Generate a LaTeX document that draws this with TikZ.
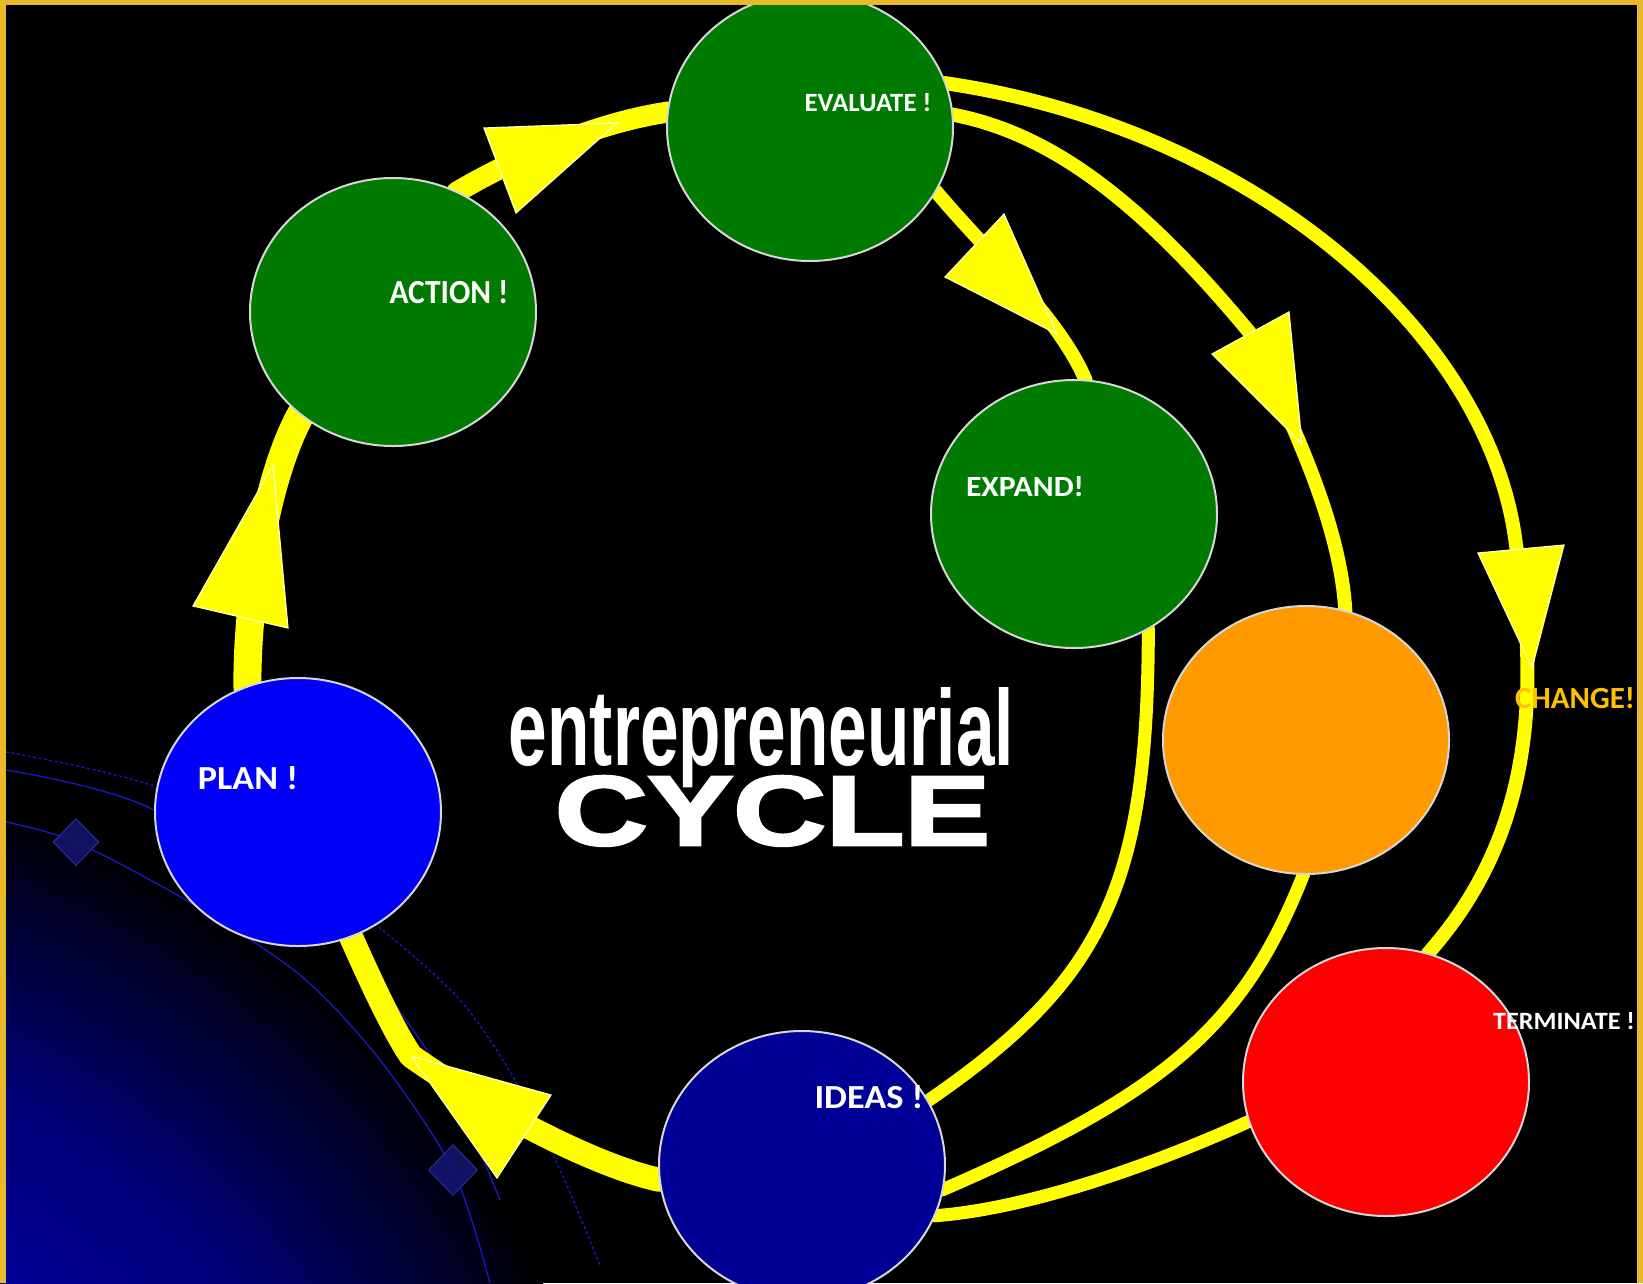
\documentclass[tikz,border=0pt]{standalone}
\usepackage{fontspec}
\usepackage{graphicx}
\usetikzlibrary{shapes.geometric}
\newfontfamily\labfont{Carlito}
\newfontfamily\ttlfont{Liberation Sans}
\newfontfamily\heavyfont{Liberation Sans}[BoldFeatures={FakeBold=2.5}]
\definecolor{gframe}{RGB}{232,185,40}
\definecolor{yl}{RGB}{255,255,0}
\definecolor{yledge}{RGB}{255,255,190}
\definecolor{ggreen}{RGB}{0,122,0}
\definecolor{bplan}{RGB}{0,0,250}
\definecolor{bideas}{RGB}{0,0,150}
\definecolor{oorange}{RGB}{255,153,0}
\definecolor{rred}{RGB}{255,0,0}
\definecolor{rim}{RGB}{215,215,215}
\definecolor{chg}{RGB}{255,192,0}
\definecolor{pbA}{RGB}{0,0,175}
\definecolor{pbB}{RGB}{0,0,165}
\definecolor{pbC}{RGB}{0,0,120}
\definecolor{pbD}{RGB}{0,0,55}
\definecolor{pbE}{RGB}{0,0,12}
\definecolor{orb}{RGB}{25,25,200}
\definecolor{dfill}{RGB}{20,20,110}
\definecolor{dedge}{RGB}{45,45,150}
\pgfdeclareradialshading{planet}{\pgfpoint{0bp}{0bp}}{color(0bp)=(pbA); color(12bp)=(pbB); color(18bp)=(pbC); color(22bp)=(pbD); color(24.5bp)=(pbE); color(25bp)=(black); color(50bp)=(black)}
\pgfdeclarelayer{bg}
\pgfdeclarelayer{lines}
\pgfsetlayers{bg,lines,main}
\begin{document}
\begin{tikzpicture}[x=1pt,y=-1pt,
  ball/.style={ellipse, minimum width=286pt, minimum height=268pt, inner sep=0pt, outer sep=0pt, draw=rim, line width=2pt},
  lbl/.style={font=\labfont\bfseries, text=white, inner sep=0pt},
  ttl/.style={text=white, inner sep=0pt, anchor=base},
  yline/.style={draw=yl, line width=13pt, line cap=round, line join=round},
  ythick/.style={yline, line width=24pt},
  tiphead/.style={fill=yl, draw=yledge, line width=1.2pt, line join=miter},
  orbit/.style={draw=orb, line width=1.3pt},
  gem/.style={diamond, aspect=1, inner sep=0pt, fill=dfill, fill opacity=0.9, draw=dedge, line width=1pt}]
\useasboundingbox (0,0) rectangle (1643,1283);
\begin{pgfonlayer}{bg}
  \fill[black] (0,0) rectangle (1643,1283);
  \begin{scope}
    \clip (0,0) rectangle (1643,1283);
    \shade[shading=planet] (-300,1700) circle[radius=940];
    \draw[orbit, dash pattern=on 3pt off 2.5pt] plot[smooth] coordinates {(6,752) (153,786) (290,860) (380,928) (460,1000) (515,1080) (560,1170) (600,1265)};
    \draw[orbit] plot[smooth] coordinates {(6,770) (150,808) (330,930) (420,1040) (470,1130) (500,1200)};
    \draw[orbit] plot[smooth] coordinates {(6,822) (76,842) (191,903) (300,975) (380,1060) (453,1170) (490,1283)};
  \end{scope}
  \node[gem, minimum width=46pt, minimum height=47pt] (gemA) at (76,842) {};
  \node[gem, minimum width=49pt, minimum height=51pt] (gemB) at (453,1170) {};
\end{pgfonlayer}

% circles
\node[ball, fill=ggreen] (evaluate) at (810,127) {};
\node[ball, fill=ggreen] (action) at (393,312) {};
\node[ball, fill=ggreen] (expand) at (1074,514) {};
\node[ball, fill=bplan] (plan) at (298,812) {};
\node[ball, fill=oorange] (orangeball) at (1306,740) {};
\node[ball, fill=bideas] (ideas) at (802,1165) {};
\node[ball, fill=rred] (terminate) at (1386,1082) {};

% labels
\node[lbl] (lEval) at (868,103) {\resizebox{127pt}{18pt}{EVALUATE !}};
\node[lbl] (lAction) at (449,292) {\resizebox{119pt}{23pt}{ACTION !}};
\node[lbl] (lExpand) at (1025,487) {\resizebox{118pt}{20pt}{EXPAND!}};
\node[lbl] (lPlan) at (248,778) {\resizebox{100pt}{23pt}{PLAN !}};
\node[lbl] (lIdeas) at (869,1097) {\resizebox{109pt}{23pt}{IDEAS !}};
\node[lbl, text=chg] (lChange) at (1575,698) {\resizebox{120pt}{21pt}{CHANGE!}};
\node[lbl] (lTerm) at (1564,1021) {\resizebox{142pt}{17pt}{TERMINATE !}};

% title
\node[ttl, font=\ttlfont\bfseries] (tTop) at (761.5,765) {\resizebox{505pt}{78pt}{entrepreneurial}};
\node[ttl, font=\heavyfont\bfseries] (tBot) at (772.5,845) {\resizebox{435pt}{69pt}{CYCLE}};

% connectors
\begin{pgfonlayer}{lines}
  \draw[ythick] (ideas.186) .. controls (590,1165) and (476,1102) .. (411,1056)
                 .. controls (393,1030) and (368,975) .. (plan.-67);
  \draw[ythick, line width=28pt] (plan.112) .. controls (247,600) and (265,480) .. (action.228);
  \draw[ythick, line width=21pt] (action.62) .. controls (520,155) and (600,122) .. (evaluate.174);
  \draw[yline, line width=14pt] (evaluate.333) .. controls (985,250) and (1060,318) .. (expand.85);
  \draw[yline, line width=14pt] (evaluate.5) .. controls (1049,133) and (1138,198) .. (1250,333)
                 .. controls (1292,424) and (1340,521) .. (orangeball.73);
  \draw[yline, line width=14pt] (evaluate.18) .. controls (1250,128) and (1490,330) .. (1516,545)
                 .. controls (1545,720) and (1520,850) .. (terminate.72);
  \draw[yline] (expand.303) .. controls (1148,886) and (1104,980) .. (ideas.27);
  \draw[yline] (orangeball.269) .. controls (1244,1025) and (1168,1092) .. (ideas.350);
  \draw[yline] (terminate.196) .. controls (1175,1155) and (1040,1208) .. (ideas.339);
  % arrow heads
  \path[tiphead] (273,465) -- (193,606) -- (288,628) -- cycle;
  \path[tiphead] (617,123) -- (484,128) -- (516,213) -- cycle;
  \path[tiphead] (1057,334) -- (1004,214) -- (945,277) -- cycle;
  \path[tiphead] (1302,444) -- (1289,312) -- (1212,354) -- cycle;
  \path[tiphead] (1532,668) -- (1478,553) -- (1564,545) -- cycle;
  \path[tiphead] (411,1056) -- (551,1095) -- (497,1178) -- cycle;
\end{pgfonlayer}

% frame
\fill[gframe] (0,0) rectangle (1643,5);
\fill[gframe] (0,0) rectangle (6,1283);
\fill[gframe] (1637,0) rectangle (1643,1283);
\end{tikzpicture}
\end{document}
